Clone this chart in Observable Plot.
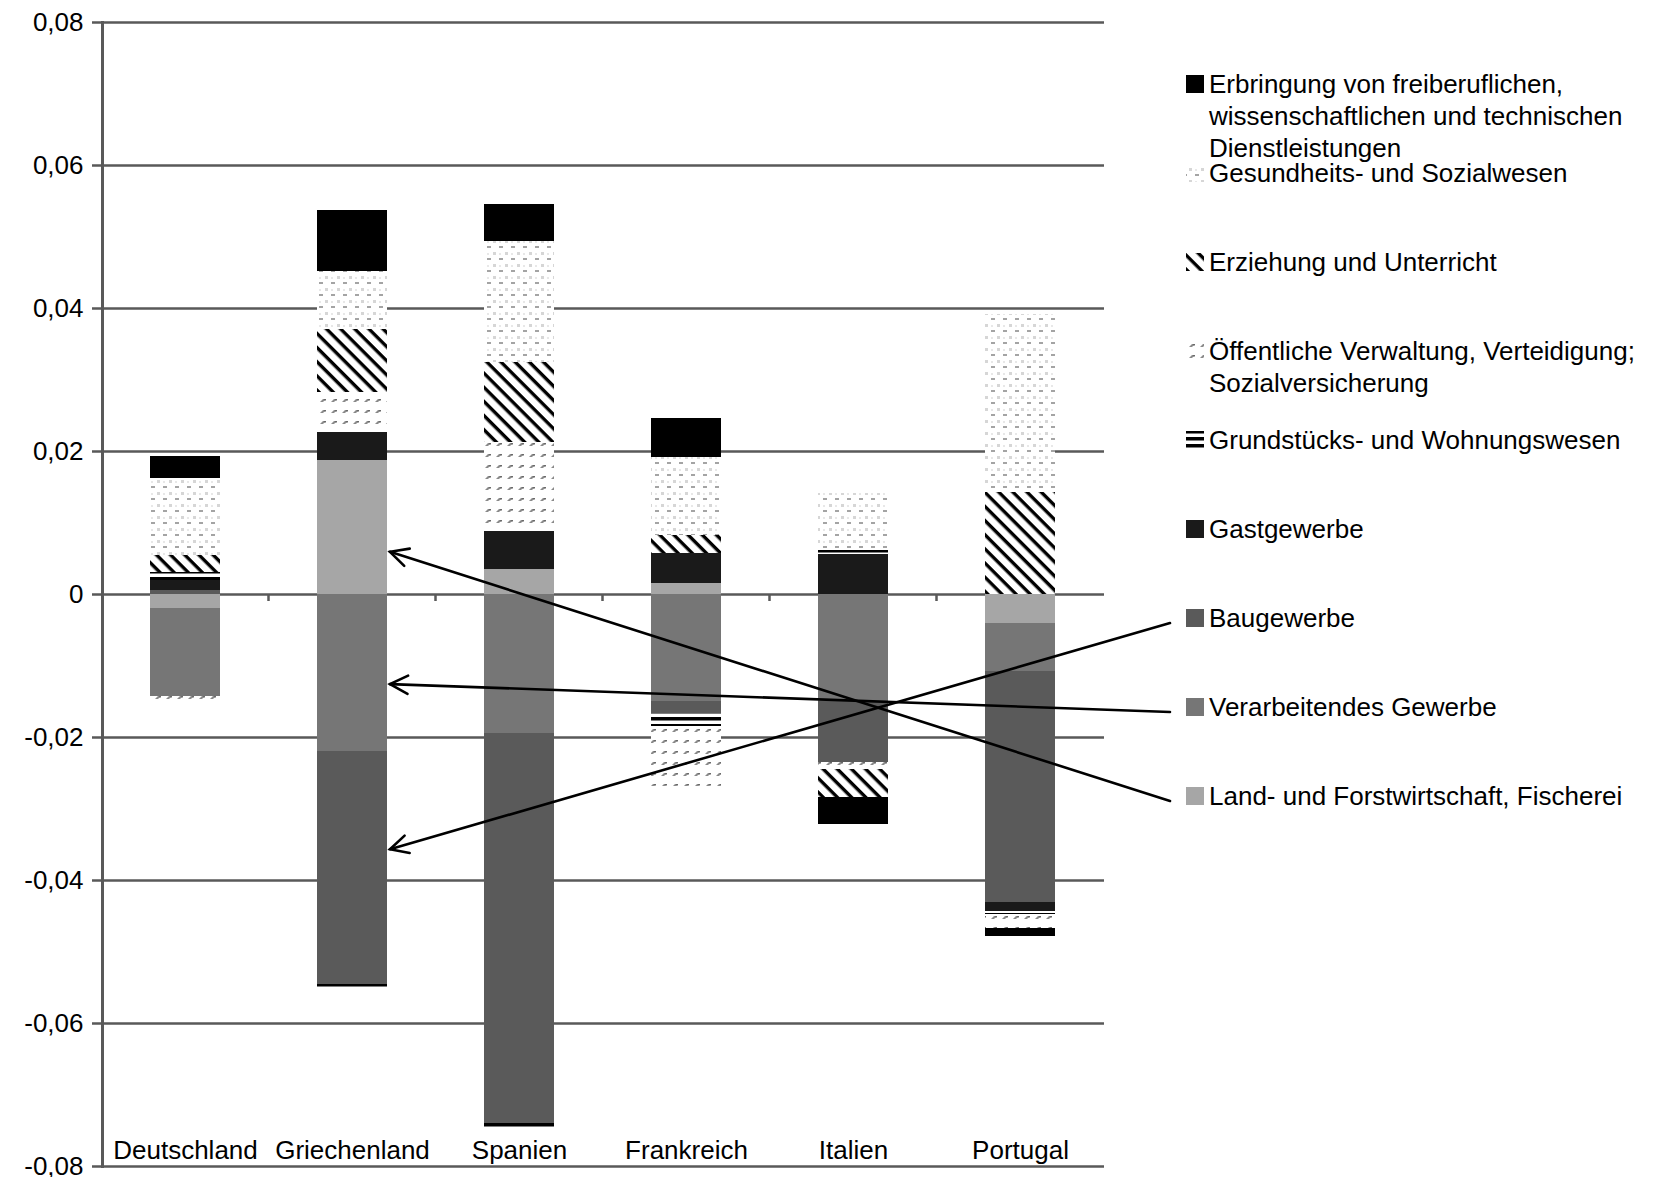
<!DOCTYPE html>
<html lang="de">
<head>
<meta charset="utf-8">
<title>Beiträge der Wirtschaftsbereiche</title>
<script src="https://cdn.jsdelivr.net/npm/d3@7"></script>
<script src="https://cdn.jsdelivr.net/npm/@observablehq/plot@0.6"></script>
<style>
  html, body { margin: 0; padding: 0; background: #fff; }
  #chart svg { display: block; }
</style>
</head>
<body>
<div id="chart"></div>
<script>
// Länder
const countries = ["Deutschland", "Griechenland", "Spanien", "Frankreich", "Italien", "Portugal"];

// Wirtschaftsbereiche in Stapelreihenfolge (von der Nulllinie weg)
const sectors = [
  "Land- und Forstwirtschaft, Fischerei",
  "Verarbeitendes Gewerbe",
  "Baugewerbe",
  "Gastgewerbe",
  "Grundstücks- und Wohnungswesen",
  "Öffentliche Verwaltung, Verteidigung; Sozialversicherung",
  "Erziehung und Unterricht",
  "Gesundheits- und Sozialwesen",
  "Erbringung von freiberuflichen, wissenschaftlichen und technischen Dienstleistungen"
];

// Beiträge je Bereich, in der Reihenfolge der Länder
const landForst   = [-0.0019,  0.0188,  0.0035,  0.0015,  0.0000, -0.0041];
const verarbeit   = [-0.0124, -0.0219, -0.0195, -0.0149, -0.0149, -0.0067];
const bau         = [ 0.0006, -0.0326, -0.0545, -0.0018, -0.0086, -0.0323];
const gast        = [ 0.0014,  0.0038,  0.0053,  0.0042,  0.0056, -0.0012];
const grundstueck = [ 0.0011, -0.0004, -0.0008, -0.0017,  0.0006, -0.0005];
const verwaltung  = [-0.0014,  0.0056,  0.0125, -0.0085, -0.0010, -0.0019];
const erziehung   = [ 0.0024,  0.0088,  0.0111,  0.0025, -0.0039,  0.0143];
const gesundheit  = [ 0.0107,  0.0082,  0.0170,  0.0110,  0.0079,  0.0248];
const freiberuf   = [ 0.0031,  0.0085,  0.0051,  0.0054, -0.0038, -0.0011];

const yTicks = [-0.08, -0.06, -0.04, -0.02, 0, 0.02, 0.04, 0.06, 0.08];
const yTickLabels = ["-0,08", "-0,06", "-0,04", "-0,02", "0", "0,02", "0,04", "0,06", "0,08"];

// Legendentext, zeilenweise (oben nach unten)
const legendLines = [
  ["Erbringung von freiberuflichen,", "wissenschaftlichen und technischen", "Dienstleistungen"],
  ["Gesundheits- und Sozialwesen"],
  ["Erziehung und Unterricht"],
  ["Öffentliche Verwaltung, Verteidigung;", "Sozialversicherung"],
  ["Grundstücks- und Wohnungswesen"],
  ["Gastgewerbe"],
  ["Baugewerbe"],
  ["Verarbeitendes Gewerbe"],
  ["Land- und Forstwirtschaft, Fischerei"]
];

// Hinweispfeile von der Legende auf die Segmente des griechischen Balkens
const pointers = [
  {country: "Griechenland", sector: "Baugewerbe", value: -0.0357},
  {country: "Griechenland", sector: "Verarbeitendes Gewerbe", value: -0.0126},
  {country: "Griechenland", sector: "Land- und Forstwirtschaft, Fischerei", value: 0.0059}
];

const sectorValues = [landForst, verarbeit, bau, gast, grundstueck, verwaltung, erziehung, gesundheit, freiberuf];
const rows = sectors.flatMap((sector, i) =>
  countries.map((country, j) => ({sector, country, value: sectorValues[i][j]}))
);

// Füllungen: Graustufen und Schraffuren
const fills = ["#a6a6a6", "#767676", "#5a5a5a", "#1a1a1a",
  "url(#pat-grund)", "url(#pat-oeff)", "url(#pat-erz)", "url(#pat-ges)", "#000000"];

const gridColor = "#595959";
const font = "'Liberation Sans', Arial, sans-serif";

const plot = Plot.plot({
  width: 1653,
  height: 1177,
  marginLeft: 102,
  marginRight: 549,
  marginTop: 22,
  marginBottom: 11,
  style: {fontFamily: font, fontSize: "26px", background: "#fff", color: "#000"},
  x: {domain: countries, paddingInner: 0.58, paddingOuter: 0.29, axis: null},
  y: {domain: [-0.08, 0.08], axis: null},
  color: {type: "ordinal", domain: sectors, range: fills},
  marks: [
    Plot.gridY(yTicks, {stroke: gridColor, strokeOpacity: 1, strokeWidth: 2.5}),
    Plot.barY(rows, {x: "country", y: "value", fill: "sector", inset: 0, shapeRendering: "crispEdges"}),
    Plot.frame({anchor: "left", stroke: gridColor, strokeWidth: 3}),
    Plot.axisY(yTicks, {
      label: null,
      tickFormat: d => yTickLabels[yTicks.indexOf(d)],
      tickSize: 10, tickPadding: 9, fontSize: 26,
      stroke: gridColor, strokeWidth: 2.5, fill: "#000"
    }),
    Plot.text(countries, {
      x: d => d, frameAnchor: "bottom", lineAnchor: "bottom", dy: -8,
      fontSize: 26, fill: "#000"
    })
  ]
});

const svg = d3.select(plot);
const sx = plot.scale("x");
const sy = plot.scale("y");

// Muster-Definitionen
const defs = svg.insert("defs", ":first-child");
function pattern(id, w, h, transform, offsetY = 0) {
  const p = defs.append("pattern").attr("id", id)
    .attr("patternUnits", "userSpaceOnUse").attr("width", w).attr("height", h)
    .attr("y", offsetY);
  if (transform) p.attr("patternTransform", transform);
  p.append("rect").attr("width", w).attr("height", h).attr("fill", "#fff");
  return p;
}
// waagerechte Balken
pattern("pat-grund", 8, 7, null, 3).append("rect").attr("width", 8).attr("height", 3.5).attr("fill", "#000");
// kleine Striche
{
  const p = pattern("pat-oeff", 11, 11);
  p.append("polygon").attr("points", "1,6 4,6 7,3 4,3").attr("fill", "#8a8a8a");
  p.append("rect").attr("x", 5).attr("y", 3).attr("width", 2).attr("height", 1.5).attr("fill", "#6a6a6a");
}
// breite Diagonale
pattern("pat-erz", 10, 10, "rotate(45)").append("rect").attr("width", 10).attr("height", 3.4).attr("fill", "#000");
// Punktraster
{
  const p = pattern("pat-ges", 12, 12);
  p.append("rect").attr("x", 1).attr("y", 0).attr("width", 3).attr("height", 3).attr("fill", "#d6d6d6");
  p.append("rect").attr("x", 7).attr("y", 6).attr("width", 4).attr("height", 2).attr("fill", "#a4a4a4");
  p.append("rect").attr("x", 7).attr("y", 1).attr("width", 2).attr("height", 2).attr("fill", "#e8e8e8");
}

// Teilstriche zwischen den Kategorien auf der Nulllinie
const y0 = sy.apply(0);
const gap = sx.step - sx.bandwidth;
const sep = svg.append("g").attr("stroke", gridColor).attr("stroke-width", 2.5);
countries.slice(1).forEach(c => {
  const x = sx.apply(c) - gap / 2;
  sep.append("line").attr("x1", x).attr("x2", x).attr("y1", y0).attr("y2", y0 + 7);
});

// Legende
const legendX = 1186, textX = 1209, firstBaseline = 93, rowStep = 89, lineHeight = 32, sw = 18;
const legend = svg.append("g").attr("font-family", font).attr("font-size", 26)
  .attr("fill", "#000").attr("text-anchor", "start");
const legendSectors = sectors.slice().reverse();
legendSectors.forEach((s, i) => {
  const base = firstBaseline + i * rowStep;
  legend.append("rect").attr("x", legendX).attr("y", base - sw).attr("width", sw).attr("height", sw)
    .attr("fill", fills[sectors.indexOf(s)]).attr("shape-rendering", "crispEdges");
  legendLines[i].forEach((line, k) => {
    legend.append("text").attr("x", textX).attr("y", base + k * lineHeight).text(line);
  });
});

// Pfeile
const arrows = svg.append("g").attr("stroke", "#000").attr("stroke-width", 2.6).attr("fill", "none")
  .attr("stroke-linecap", "round");
pointers.forEach(p => {
  const row = legendSectors.indexOf(p.sector);
  const x0 = legendX - 16, yStart = firstBaseline + row * rowStep - 4;
  const x1 = sx.apply(p.country) + sx.bandwidth + 3, y1 = sy.apply(p.value);
  arrows.append("line").attr("x1", x0).attr("y1", yStart).attr("x2", x1).attr("y2", y1);
  const a = Math.atan2(yStart - y1, x0 - x1);
  const len = 20, spread = 0.47;
  const pts = [a - spread, a + spread].map(t => [x1 + len * Math.cos(t), y1 + len * Math.sin(t)]);
  arrows.append("path")
    .attr("d", `M${pts[0][0]},${pts[0][1]}L${x1},${y1}L${pts[1][0]},${pts[1][1]}`)
    .attr("stroke-linejoin", "miter");
});

document.getElementById("chart").appendChild(plot);
</script>
</body>
</html>
